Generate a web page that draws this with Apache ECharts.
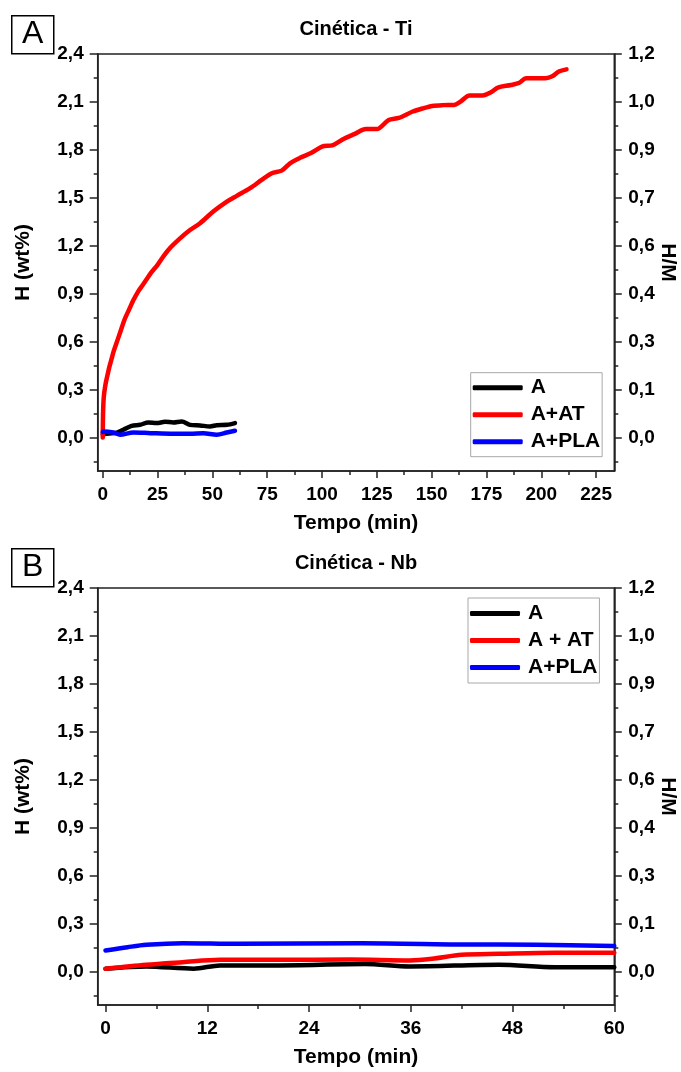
<!DOCTYPE html>
<html lang="pt">
<head>
<meta charset="UTF-8">
<title>Cinética - Ti / Nb</title>
<script src="https://cdn.jsdelivr.net/npm/echarts@6/dist/echarts.min.js"></script>
<style>
  html, body { margin: 0; padding: 0; background: #fff; }
  #chart { width: 681px; height: 1072px; }
</style>
</head>
<body>
<div id="chart"></div>
<script>
// ---- dados ----
// eixo y: H (wt%) e rótulos de H/M no eixo direito
var yTicks = [0, 0.3, 0.6, 0.9, 1.2, 1.5, 1.8, 2.1, 2.4];
var yTickLabels = ['0,0', '0,3', '0,6', '0,9', '1,2', '1,5', '1,8', '2,1', '2,4'];
var hmTickLabels = ['0,0', '0,1', '0,3', '0,4', '0,6', '0,7', '0,9', '1,0', '1,2'];
var yMinorTicks = [-0.15, 0.15, 0.45, 0.75, 1.05, 1.35, 1.65, 1.95, 2.25];

var tiTicks = [0, 25, 50, 75, 100, 125, 150, 175, 200, 225];
var tiMinorTicks = [12.5, 37.5, 62.5, 87.5, 112.5, 137.5, 162.5, 187.5, 212.5];
var nbTicks = [0, 12, 24, 36, 48, 60];
var nbMinorTicks = [6, 18, 30, 42, 54];

// Cinética - Ti
var tiA_t = [0, 0.3, 3, 6.4, 9.4, 13.2, 17, 20.8, 24.6, 28.4, 32.2, 36, 39.8, 44.4, 48.9, 52, 56.6, 60.3];
var tiA_h = [0.02, 0.02, 0.025, 0.03, 0.048, 0.073, 0.079, 0.094, 0.09, 0.098, 0.094, 0.1, 0.079, 0.075, 0.069, 0.077, 0.079, 0.09];

var tiAT_t = [0, 0.1, 0.3, 0.6, 1, 1.5, 2, 3, 4, 5, 6, 8, 10, 12, 14, 16, 18, 20, 22, 25, 28, 31, 34.5,
  39.8, 44.4, 50.4, 56.6, 61.1, 67.2, 72.5, 77.1, 81.6, 85.4, 90, 95, 100, 105, 110, 115, 120, 125,
  130.4, 135, 141.4, 146, 150.3, 155, 160.2, 163, 167.3, 173.2, 177, 180.2, 186.2, 190, 193, 197, 202, 205, 208, 211.5];
var tiAT_h = [0, 0.12, 0.215, 0.27, 0.31, 0.35, 0.38, 0.44, 0.49, 0.54, 0.58, 0.66, 0.74, 0.8, 0.86, 0.91, 0.95, 0.99, 1.03, 1.08, 1.14, 1.19, 1.237,
  1.298, 1.341, 1.414, 1.476, 1.512, 1.56, 1.612, 1.654, 1.67, 1.716, 1.75, 1.78, 1.82, 1.83, 1.87, 1.9, 1.93, 1.93,
  1.987, 2.0, 2.04, 2.06, 2.075, 2.08, 2.081, 2.1, 2.14, 2.14, 2.16, 2.19, 2.206, 2.22, 2.248, 2.248, 2.248, 2.26, 2.29, 2.304];

var tiPLA_t = [0, 0.3, 4.8, 7.9, 14, 21.8, 32.2, 39.8, 45.9, 52, 56.6, 60.3];
var tiPLA_h = [0.035, 0.038, 0.031, 0.017, 0.031, 0.027, 0.023, 0.023, 0.027, 0.017, 0.031, 0.042];

// Cinética - Nb
var nbA_t = [0, 4.8, 10.4, 13.5, 20.1, 30.6, 35.9, 46.4, 53, 60];
var nbA_h = [0.017, 0.031, 0.017, 0.038, 0.038, 0.046, 0.031, 0.042, 0.027, 0.027];

var nbAT_t = [0, 4.8, 9.1, 13.5, 20.1, 28.9, 35.9, 38.5, 42, 46.4, 53, 60];
var nbAT_h = [0.017, 0.042, 0.058, 0.073, 0.073, 0.075, 0.069, 0.079, 0.104, 0.11, 0.117, 0.117];

var nbPLA_t = [0, 2.6, 4.8, 9.1, 15.7, 30.2, 42, 50.8, 60];
var nbPLA_h = [0.131, 0.152, 0.167, 0.177, 0.173, 0.177, 0.169, 0.167, 0.159];

var tiNames = ['A', 'A+AT', 'A+PLA'];
var nbNames = ['A', 'A + AT', 'A+PLA'];
var lineColors = ['#000000', '#ff0000', '#0000ff'];

// ---- montagem ----
var FONT = '"Liberation Sans", Arial, sans-serif';

function pairs(t, h) {
  var out = [];
  for (var i = 0; i < t.length; i++) out.push([t[i], h[i]]);
  return out;
}

function lookup(values, labels) {
  return function (v) {
    for (var i = 0; i < values.length; i++) {
      if (Math.abs(values[i] - v) < 1e-6) return labels[i];
    }
    return '';
  };
}

var labelStyle = { color: '#000', fontFamily: FONT, fontWeight: 'bold', fontSize: 19 };
var nameStyle = { color: '#000', fontFamily: FONT, fontWeight: 'bold', fontSize: 21 };
var lineStyleAxis = { color: '#222', width: 1.5 };

function xAxes(grid, min, max, ticks, minor) {
  return [{
    type: 'value', gridIndex: grid, position: 'bottom', min: min, max: max,
    name: 'Tempo (min)', nameLocation: 'middle', nameGap: 42, nameMoveOverlap: false, nameTextStyle: nameStyle,
    axisLine: { show: true, onZero: false, lineStyle: lineStyleAxis },
    axisTick: { show: true, inside: false, length: 7, customValues: ticks, lineStyle: { color: '#222', width: 1.5 } },
    axisLabel: { show: true, margin: 14, customValues: ticks, formatter: function (v) { return String(v); }, textStyle: labelStyle },
    splitLine: { show: false }
  }, {
    type: 'value', gridIndex: grid, position: 'bottom', min: min, max: max,
    axisLine: { show: false, onZero: false },
    axisTick: { show: true, inside: false, length: 4, customValues: minor, lineStyle: { color: '#222', width: 1.5 } },
    axisLabel: { show: false },
    splitLine: { show: false }
  }];
}

function yAxes(grid, min, max) {
  var base = { type: 'value', gridIndex: grid, min: min, max: max, splitLine: { show: false } };
  return [
    Object.assign({}, base, {
      position: 'left', name: 'H (wt%)', nameLocation: 'middle', nameGap: 64, nameRotate: 90,
      nameMoveOverlap: false, nameTextStyle: nameStyle,
      axisLine: { show: true, onZero: false, lineStyle: lineStyleAxis },
      axisTick: { show: true, inside: false, length: 8, customValues: yTicks, lineStyle: { color: '#222', width: 1.5 } },
      axisLabel: { margin: 14, customValues: yTicks, formatter: lookup(yTicks, yTickLabels), textStyle: labelStyle }
    }),
    Object.assign({}, base, {
      position: 'left',
      axisLine: { show: false, onZero: false },
      axisTick: { show: true, inside: false, length: 4, customValues: yMinorTicks, lineStyle: { color: '#222', width: 1.5 } },
      axisLabel: { show: false }
    }),
    Object.assign({}, base, {
      position: 'right', name: 'H/M', nameLocation: 'middle', nameGap: 43, nameRotate: -90,
      nameMoveOverlap: false, nameTextStyle: nameStyle,
      axisLine: { show: true, onZero: false, lineStyle: lineStyleAxis },
      axisTick: { show: true, inside: false, length: 7.5, customValues: yTicks, lineStyle: { color: '#222', width: 1.5 } },
      axisLabel: { margin: 14, customValues: yTicks, formatter: lookup(yTicks, hmTickLabels), textStyle: labelStyle }
    }),
    Object.assign({}, base, {
      position: 'right',
      axisLine: { show: false, onZero: false },
      axisTick: { show: true, inside: false, length: 4, customValues: yMinorTicks, lineStyle: { color: '#222', width: 1.5 } },
      axisLabel: { show: false }
    })
  ];
}

function lines(names, data, xi, yi) {
  return names.map(function (n, i) {
    return {
      name: n, type: 'line', xAxisIndex: xi, yAxisIndex: yi,
      data: data[i], showSymbol: false, smooth: 0.3,
      lineStyle: { color: lineColors[i], width: 4.5, cap: 'round', join: 'round' },
      itemStyle: { color: lineColors[i] }
    };
  });
}

function legend(names, left, top, padding) {
  return {
    data: names, orient: 'vertical', left: left, top: top,
    icon: 'roundRect', itemWidth: 50, itemHeight: 5, itemGap: 6,
    padding: padding, borderColor: '#a8a8a8', borderWidth: 1,
    textStyle: { color: '#000', fontFamily: FONT, fontWeight: 'bold', fontSize: 21, lineHeight: 21, padding: [0, 0, 0, 3] }
  };
}

function panelBox(letter, top) {
  return [{
    type: 'rect', left: 11, top: top, shape: { width: 42, height: 38 },
    style: { fill: '#fff', stroke: '#000', lineWidth: 1.5 }
  }, {
    type: 'text', left: 22, top: top + 3,
    style: { text: letter, fill: '#000', font: '32px ' + FONT }
  }];
}

var chart = echarts.init(document.getElementById('chart'));
chart.setOption({
  animation: false,
  backgroundColor: '#fff',
  title: [
    { text: 'Cinética - Ti', left: 356, top: 19, padding: 0, textAlign: 'center',
      textStyle: { color: '#000', fontFamily: FONT, fontWeight: 'bold', fontSize: 20 } },
    { text: 'Cinética - Nb', left: 356, top: 553, padding: 0, textAlign: 'center',
      textStyle: { color: '#000', fontFamily: FONT, fontWeight: 'bold', fontSize: 20 } }
  ],
  grid: [
    { left: 97.7, right: 66.7, top: 54, height: 417, show: true, borderColor: '#222', borderWidth: 1.5,
      containLabel: false, outerBoundsMode: 'none' },
    { left: 97.7, right: 66.7, top: 588, height: 417, show: true, borderColor: '#222', borderWidth: 1.5,
      containLabel: false, outerBoundsMode: 'none' }
  ],
  legend: [
    legend(tiNames, 470.7, 372.7, [4.5, 2, 4.5, 2]),
    legend(nbNames, 468, 598, [5, 2, 5, 2])
  ],
  xAxis: xAxes(0, -2.3, 233.3, tiTicks, tiMinorTicks).concat(xAxes(1, -0.92, 60, nbTicks, nbMinorTicks)),
  yAxis: yAxes(0, -0.21, 2.4).concat(yAxes(1, -0.21, 2.4)),
  series: lines(tiNames, [pairs(tiA_t, tiA_h), pairs(tiAT_t, tiAT_h), pairs(tiPLA_t, tiPLA_h)], 0, 0)
    .concat(lines(nbNames, [pairs(nbA_t, nbA_h), pairs(nbAT_t, nbAT_h), pairs(nbPLA_t, nbPLA_h)], 2, 4)),
  graphic: panelBox('A', 15).concat(panelBox('B', 548))
});
</script>
</body>
</html>
